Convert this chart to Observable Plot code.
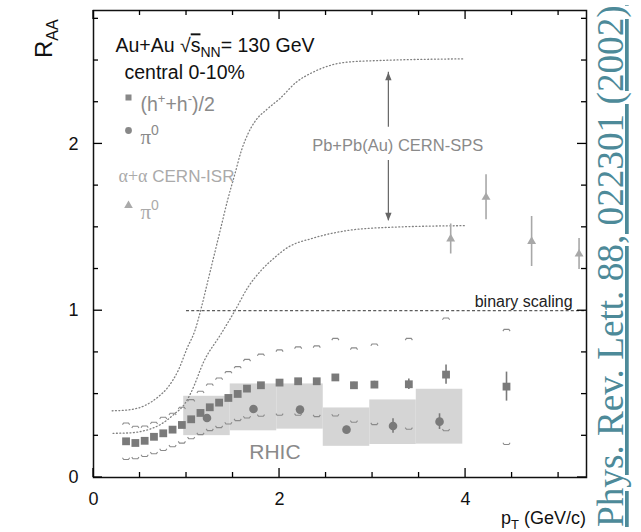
<!DOCTYPE html>
<html><head><meta charset="utf-8">
<script src="https://cdn.jsdelivr.net/npm/d3@7"></script>
<script src="https://cdn.jsdelivr.net/npm/@observablehq/plot@0.6"></script>
<style>
body{margin:0;background:#fff;}
#chart{width:641px;height:532px;}
</style>
</head><body><div id="chart"></div>
<script>
// ---- data ----
const xMajor = [0, 2, 4];
const xMinor = [0.5, 1, 1.5, 2.5, 3, 3.5, 4.5, 5];
const yMajor = [0, 1, 2];
const yMinor = [0.25, 0.5, 0.75, 1.25, 1.5, 1.75, 2.25, 2.5, 2.75];

// (h+ + h-)/2, Au+Au central 0-10%
const hX     = [0.35,0.45,0.55,0.65,0.75,0.85,0.95,1.05,1.15,1.25,1.35,1.45,1.55,1.65,1.80,2.00,2.20,2.40,2.60,2.80,3.02,3.39,3.79,4.44];
const hY     = [0.217,0.207,0.220,0.244,0.265,0.287,0.315,0.349,0.387,0.421,0.449,0.477,0.501,0.533,0.553,0.569,0.577,0.577,0.600,0.553,0.557,0.559,0.617,0.545];
const hErr   = [0.005,0.005,0.005,0.005,0.005,0.006,0.006,0.007,0.008,0.008,0.009,0.010,0.010,0.011,0.012,0.013,0.014,0.015,0.017,0.018,0.020,0.032,0.058,0.087];
const hSysHi = [0.327,0.307,0.309,0.331,0.361,0.385,0.421,0.467,0.517,0.561,0.597,0.635,0.665,0.708,0.740,0.765,0.783,0.789,0.834,0.777,0.800,0.834,0.956,0.888];
const hSysLo = [0.108,0.112,0.126,0.142,0.162,0.184,0.206,0.232,0.257,0.281,0.299,0.321,0.341,0.357,0.367,0.373,0.373,0.365,0.369,0.331,0.317,0.289,0.280,0.198];

// pi0, Au+Au central
const pX    = [1.22, 1.72, 2.22, 2.72, 3.22, 3.72];
const pY    = [0.357, 0.411, 0.407, 0.287, 0.309, 0.335];
const pErr  = [0.012, 0.012, 0.012, 0.02, 0.043, 0.047];
const pBoxLo = [0.251, 0.280, 0.290, 0.187, 0.198, 0.200];
const pBoxHi = [0.487, 0.561, 0.561, 0.417, 0.465, 0.529];
const pBoxHalfWidth = 0.25;

// alpha+alpha CERN-ISR pi0
const isrX   = [3.84, 4.22, 4.71, 5.22];
const isrY   = [1.43, 1.68, 1.415, 1.34];
const isrErr = [0.09, 0.135, 0.15, 0.093];

// Pb+Pb(Au) CERN-SPS band (upper / lower dotted curves)
const spsUpX = [0.20,0.37,0.55,0.69,0.80,0.91,1.01,1.09,1.16,1.23,1.30,1.37,1.44,1.52,1.59,1.66,1.73,1.87,2.00,2.18,2.36,2.54,2.72,3.07,3.97];
const spsUpY = [0.400,0.405,0.431,0.481,0.541,0.641,0.780,0.880,1.020,1.180,1.340,1.500,1.660,1.820,1.960,2.060,2.130,2.210,2.270,2.370,2.430,2.470,2.490,2.500,2.510];
const spsLoX = [0.21,0.37,0.55,0.73,0.87,0.98,1.05,1.19,1.37,1.52,1.66,1.80,1.95,2.09,2.36,2.72,3.18,3.99];
const spsLoY = [0.265,0.267,0.281,0.321,0.381,0.441,0.511,0.700,0.860,1.000,1.140,1.240,1.320,1.380,1.435,1.480,1.500,1.510];

const binaryLevel = 1, binaryFrom = 1.0, xMax = 5.3, yMax = 2.8;
const spsArrowX = 3.17, spsArrow = [2.43, 2.10, 1.90, 1.54]; // top, gapTop, gapBottom, bottom
const spsLabel = {x: 3.27, y: 1.99, text: "Pb+Pb(Au) CERN-SPS"};
const rhicLabel = {x: 1.95, y: 0.15, text: "RHIC"};
const binaryLabel = {x: 5.15, y: 1.0, text: "binary scaling"};

// ---- layout ----
const W = 641, H = 532, mL = 93, mR = 55, mT = 10, mB = 55;

// ---- tables ----
const hData = hX.map((x, i) => ({x, y: hY[i], e: hErr[i], hi: hSysHi[i], lo: hSysLo[i]}));
const pData = pX.map((x, i) => ({x, y: pY[i], e: pErr[i], lo: pBoxLo[i], hi: pBoxHi[i]}));
const isrData = isrX.map((x, i) => ({x, y: isrY[i], e: isrErr[i]}));
const spsUp = spsUpX.map((x, i) => ({x, y: spsUpY[i]}));
const spsLo = spsLoX.map((x, i) => ({x, y: spsLoY[i]}));

// ---- custom symbols ----
const capTop = {draw(c){c.moveTo(-3.6,1.7);c.lineTo(-2.4,0);c.lineTo(2.4,0);c.lineTo(3.6,1.7);}};
const capBot = {draw(c){c.moveTo(-3.6,-1.7);c.lineTo(-2.4,0);c.lineTo(2.4,0);c.lineTo(3.6,-1.7);}};
const headUp = {draw(c){c.moveTo(0,0);c.lineTo(-3.2,8);c.lineTo(3.2,8);c.closePath();}};
const headDown = {draw(c){c.moveTo(0,0);c.lineTo(-3.2,-8);c.lineTo(3.2,-8);c.closePath();}};

const SANS = "'Liberation Sans', Arial, Helvetica, sans-serif";
const grey = "#7a7a7a", lgrey = "#a8a8a8";

const legendText = (s, dx, dy, fill, size = 19.5) =>
  Plot.text([s], {x: null, y: null, text: d => d, frameAnchor: "top-left", dx, dy, textAnchor: "start", fill, fontSize: size});
const legendSym = (symbol, dx, dy, fill, r) =>
  Plot.dot([0], {x: null, y: null, frameAnchor: "top-left", dx, dy, symbol, fill, r, stroke: "none"});

const plot = Plot.plot({
  width: W, height: H,
  marginLeft: mL, marginRight: mR, marginTop: mT, marginBottom: mB,
  x: {domain: [0, xMax], axis: null},
  y: {domain: [0, yMax], axis: null},
  style: {fontFamily: SANS, fontSize: "18px", background: "#fff", color: "#111", overflow: "visible"},
  marks: [
    Plot.rect(pData, {x1: d => d.x - pBoxHalfWidth, x2: d => d.x + pBoxHalfWidth, y1: "lo", y2: "hi", fill: "#d5d5d5"}),
    Plot.ruleY([binaryLevel], {x1: binaryFrom, x2: xMax, stroke: "#333", strokeWidth: 1, strokeDasharray: "3,2.2"}),
    Plot.line(spsUp, {x: "x", y: "y", curve: "monotone-x", stroke: "#808080", strokeWidth: 1.3, strokeDasharray: "0.9,2.5", strokeLinecap: "round"}),
    Plot.line(spsLo, {x: "x", y: "y", curve: "monotone-x", stroke: "#808080", strokeWidth: 1.3, strokeDasharray: "0.9,2.5", strokeLinecap: "round"}),
    Plot.dot(hData, {x: "x", y: "hi", symbol: capTop, stroke: "#8a8a8a", fill: "none", strokeWidth: 1.1}),
    Plot.dot(hData, {x: "x", y: "lo", symbol: capBot, stroke: "#8a8a8a", fill: "none", strokeWidth: 1.1}),
    Plot.ruleX(hData, {x: "x", y1: d => d.y - d.e, y2: d => d.y + d.e, stroke: grey, strokeWidth: 1.6}),
    Plot.ruleX(pData, {x: "x", y1: d => d.y - d.e, y2: d => d.y + d.e, stroke: grey, strokeWidth: 1.6}),
    Plot.ruleX(isrData, {x: "x", y1: d => d.y - d.e, y2: d => d.y + d.e, stroke: lgrey, strokeWidth: 1.6}),
    Plot.dot(hData, {x: "x", y: "y", symbol: "square", fill: grey, r: 4.4}),
    Plot.dot(pData, {x: "x", y: "y", symbol: "circle", fill: grey, r: 4.3}),
    Plot.dot(isrData, {x: "x", y: "y", symbol: "triangle", fill: lgrey, r: 3.3}),
    // SPS arrow
    Plot.ruleX([spsArrowX], {y1: spsArrow[1], y2: spsArrow[0], stroke: "#666", strokeWidth: 1.2}),
    Plot.ruleX([spsArrowX], {y1: spsArrow[3], y2: spsArrow[2], stroke: "#666", strokeWidth: 1.2}),
    Plot.dot([spsArrowX], {x: d => d, y: () => spsArrow[0], symbol: headUp, fill: "#666", stroke: "none"}),
    Plot.dot([spsArrowX], {x: d => d, y: () => spsArrow[3], symbol: headDown, fill: "#666", stroke: "none"}),
    Plot.text([spsLabel], {x: "x", y: "y", text: "text", fill: "#8a8a8a", fontSize: 16.5}),
    Plot.text([rhicLabel], {x: "x", y: "y", text: "text", fill: "#8a8a8a", fontSize: 21}),
    Plot.text([binaryLabel], {x: "x", y: "y", text: "text", fill: "#222", fontSize: 16, textAnchor: "end", lineAnchor: "bottom", dy: -4}),
    // legend
    legendText("@title", 22, 28, "#111"),
    legendText("central 0-10%", 31, 55, "#111"),
    legendSym("square", 35, 87, "#888", 3.4),
    legendText("@hch", 47, 87, "#8a8a8a"),
    legendSym("circle", 35, 120, "#888", 3.4),
    legendText("@pi1", 47, 120, "#8a8a8a"),
    legendText("@isr", 25, 159, "#aaa", 17),
    legendSym("triangle", 35, 195, "#aaa", 3.2),
    legendText("@pi2", 47, 195, "#aaa"),
    // frame and axis labels
    Plot.frame({stroke: "#111", strokeWidth: 1.5}),
    Plot.axisX({ticks: xMajor, anchor: "bottom", tickSize: 0, tickPadding: 15, fontSize: 18, label: null, tickFormat: d => String(d)}),
    Plot.axisY({ticks: yMajor, anchor: "left", tickSize: 0, tickPadding: 15, fontSize: 18, label: null, tickFormat: d => String(d)})
  ]
});
document.getElementById("chart").append(plot);
const svg = d3.select(plot);

// ---- inward ticks on all four sides, placed with Plot's own scales ----
const sx = plot.scale("x"), sy = plot.scale("y");
const px = v => sx.apply(v), py = v => sy.apply(v);
const x0 = px(0), x1 = px(xMax), y0 = py(0), y1 = py(yMax);
const tg = svg.append("g").attr("stroke", "#000").attr("stroke-width", 1.3);
const addXTicks = (ticks, len) => ticks.forEach(v => {
  tg.append("line").attr("x1", px(v)).attr("x2", px(v)).attr("y1", y0).attr("y2", y0 - len);
  tg.append("line").attr("x1", px(v)).attr("x2", px(v)).attr("y1", y1).attr("y2", y1 + len);
});
const addYTicks = (ticks, len) => ticks.forEach(v => {
  tg.append("line").attr("y1", py(v)).attr("y2", py(v)).attr("x1", x0).attr("x2", x0 + len);
  tg.append("line").attr("y1", py(v)).attr("y2", py(v)).attr("x1", x1).attr("x2", x1 - len);
});
addXTicks(xMajor, 9); addXTicks(xMinor, 5);
addYTicks(yMajor, 9); addYTicks(yMinor, 5);

// ---- rich text (sub/superscripts, serif greek) ----
const SERIF = "'Liberation Serif', 'Times New Roman', serif";
const richMap = {
  "@title": [{t: "Au+Au \u221A"}, {t: "s", over: true}, {t: "NN", size: 14, dy: 5}, {t: "= 130 GeV", dy: -5}],
  "@hch": [{t: "(h"}, {t: "+", size: 13, dy: -8}, {t: "+h", dy: 8}, {t: "-", size: 13, dy: -8}, {t: ")/2", dy: 8}],
  "@pi1": [{t: "\u03C0", serif: true, size: 21}, {t: "0", size: 14, dy: -9}],
  "@pi2": [{t: "\u03C0", serif: true, size: 21}, {t: "0", size: 14, dy: -9}],
  "@isr": [{t: "\u03B1+\u03B1", serif: true, size: 18}, {t: " CERN-ISR"}]
};
svg.selectAll("text").each(function() {
  const parts = richMap[this.textContent];
  if (!parts) return;
  const t = d3.select(this);
  t.text(null);
  for (const p of parts) {
    const ts = t.append("tspan").text(p.t);
    if (p.size) ts.attr("font-size", p.size);
    if (p.dy) ts.attr("dy", p.dy);
    if (p.serif) ts.attr("font-family", SERIF);
    if (p.over) ts.style("text-decoration", "overline");
  }
});

// axis titles
const rl = svg.append("text").attr("transform", "translate(52,58) rotate(-90)").attr("text-anchor", "start")
  .attr("font-family", SANS).attr("font-size", 24).attr("fill", "#111");
rl.append("tspan").text("R");
rl.append("tspan").text("AA").attr("font-size", 16).attr("dy", 6);

const xl = svg.append("text").attr("x", 586).attr("y", 524).attr("text-anchor", "end")
  .attr("font-family", SANS).attr("font-size", 18).attr("fill", "#111");
xl.append("tspan").text("p");
xl.append("tspan").text("T").attr("font-size", 13).attr("dy", 5);
xl.append("tspan").text(" (GeV/c)").attr("dy", -5);

// citation on the right edge
const cite = svg.append("text").attr("transform", "translate(623,527) rotate(-90)").attr("text-anchor", "start")
  .attr("font-family", SERIF).attr("font-size", 32).attr("fill", "#4d8a99")
  .style("text-decoration", "underline")
  .text("Phys. Rev. Lett. 88, 022301 (2002)");
const len = cite.node().getComputedTextLength();
if (len > 0) cite.attr("font-size", 32 * 522 / len);
</script>
</body></html>
